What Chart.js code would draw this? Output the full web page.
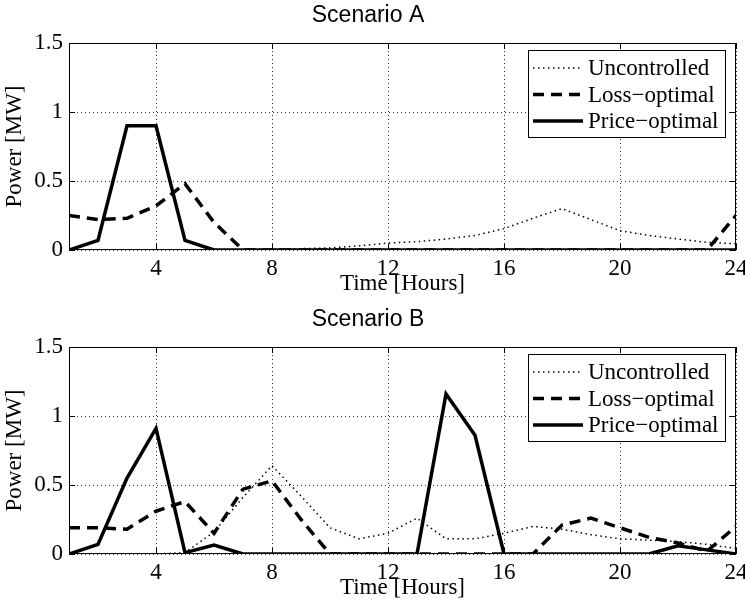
<!DOCTYPE html>
<html><head><meta charset="utf-8">
<script src="https://cdn.jsdelivr.net/npm/chart.js@4.4.0/dist/chart.umd.min.js"></script>
<style>
html,body{margin:0;padding:0;background:#fff;}
#wrap{position:relative;width:745px;height:610px;overflow:hidden;}
canvas{position:absolute;left:0;}
</style></head><body>
<div id="wrap">
<canvas id="cA" width="745" height="304" style="top:0px"></canvas>
<canvas id="cB" width="745" height="306" style="top:304px"></canvas>
</div>
<script>
const hours = [1,2,3,4,5,6,7,8,9,10,11,12,13,14,15,16,17,18,19,20,21,22,23,24];
const xTicks = [4,8,12,16,20,24];
const yTicks = [0,0.5,1,1.5];
const seriesNames = ['Uncontrolled','Loss\u2212optimal','Price\u2212optimal'];

const uncontrolledA = [0,0,0,0,0,0,0,0.005,0.01,0.015,0.03,0.05,0.06,0.08,0.105,0.155,0.23,0.3,0.22,0.14,0.105,0.08,0.055,0.045];
const lossA         = [0.25,0.22,0.23,0.32,0.48,0.2,0,0,0,0,0,0,0,0,0,0,0,0,0,0,0,0,0,0.25];
const priceA        = [0,0.07,0.9,0.9,0.07,0,0,0,0,0,0,0,0,0,0,0,0,0,0,0,0,0,0,0];

const uncontrolledB = [0,0,0,0,0.01,0.16,0.41,0.64,0.42,0.19,0.11,0.15,0.26,0.11,0.11,0.15,0.2,0.18,0.14,0.11,0.1,0.09,0.07,0.04];
const lossB         = [0.19,0.19,0.18,0.31,0.38,0.15,0.47,0.53,0.25,0,0,0,0,0,0,0,0,0.21,0.26,0.19,0.12,0.08,0.02,0.2];
const priceB        = [0,0.07,0.55,0.91,0.01,0.065,0,0,0,0,0,0,0,1.16,0.86,0,0,0,0,0,0,0.06,0.03,0];

const styles = [
  {borderWidth:1.5, borderDash:[1.5,3.5], order:3},
  {borderWidth:3.5, borderDash:[11,7], order:2},
  {borderWidth:3.5, borderDash:[], order:1}
];

function pts(vals){ return hours.map((h,i)=>({x:h,y:vals[i]})); }

const framePlugin = {
  id:'frame',
  afterDatasetsDraw(chart){
    const {ctx, chartArea:a, scales:{x,y}} = chart;
    ctx.save();
    ctx.setLineDash([]);
    ctx.strokeStyle='#000';
    ctx.lineWidth=1;
    ctx.strokeRect(Math.round(a.left)+0.5, Math.round(a.top)+0.5, Math.round(a.width)-1, Math.round(a.height)-1);
    ctx.beginPath();
    xTicks.forEach(v=>{
      const px = Math.round(x.getPixelForValue(v))+0.5;
      ctx.moveTo(px,a.bottom); ctx.lineTo(px,a.bottom-6);
      ctx.moveTo(px,a.top); ctx.lineTo(px,a.top+6);
    });
    yTicks.forEach(v=>{
      const py = Math.round(y.getPixelForValue(v))+0.5;
      ctx.moveTo(a.left,py); ctx.lineTo(a.left+6,py);
      ctx.moveTo(a.right,py); ctx.lineTo(a.right-6,py);
    });
    ctx.stroke();
    // legend box
    const bw=197, bh=87;
    const bx=Math.round(a.right)-11-bw, by=Math.round(a.top)+7;
    ctx.fillStyle='#fff';
    ctx.fillRect(bx,by,bw,bh);
    ctx.strokeRect(bx+0.5,by+0.5,bw,bh);
    chart.data.datasets.forEach((ds,i)=>{
      const yy = by+18+i*26.5;
      ctx.beginPath();
      ctx.setLineDash(ds.borderDash||[]);
      ctx.lineWidth=ds.borderWidth;
      ctx.strokeStyle='#000';
      ctx.moveTo(bx+5,yy); ctx.lineTo(bx+55,yy);
      ctx.stroke();
      ctx.setLineDash([]);
      ctx.fillStyle='#000';
      ctx.font='23px "Liberation Serif"';
      ctx.textBaseline='middle';
      ctx.textAlign='left';
      ctx.fillText(ds.label,bx+60,yy+1);
    });
    ctx.restore();
  }
};

function makeChart(id, title, H, u, l, p){
  const datasets = [u,l,p].map((vals,i)=>({
    label: seriesNames[i],
    data: pts(vals),
    borderColor:'#000',
    backgroundColor:'#000',
    borderWidth: styles[i].borderWidth,
    borderDash: styles[i].borderDash,
    borderCapStyle:'butt',
    borderJoinStyle:'miter',
    order: styles[i].order,
    pointRadius:0,
    tension:0,
    fill:false
  }));
  const serif = {family:'Liberation Serif', size:23};
  return new Chart(document.getElementById(id), {
    type:'line',
    data:{datasets},
    plugins:[framePlugin],
    options:{
      responsive:false,
      animation:false,
      events:[],
      layout:{padding:{left:0,right:9,top:0,bottom:0}},
      plugins:{
        legend:{display:false},
        tooltip:{enabled:false},
        title:{display:true, text:title, color:'#000',
          font:{family:'Liberation Sans', size:23, weight:'normal'},
          padding:{top:2.2,bottom:13.2}}
      },
      scales:{
        x:{type:'linear', min:1, max:24,
          afterBuildTicks:s=>{ s.ticks = xTicks.map(v=>({value:v})); },
          afterFit:s=>{ s.height = H-250; s.paddingLeft=0; s.paddingRight=0; },
          grid:{color:'rgba(0,0,0,0.8)', lineWidth:1, drawTicks:false},
          border:{display:false, dash:[1,3]},
          ticks:{font:serif, color:'#000', padding:5, maxRotation:0, autoSkip:false,
            callback:v=>String(v)},
          title:{display:true, text:'Time [Hours]', color:'#000', font:serif,
            padding:{top:0,bottom:H-13.8-284}}
        },
        y:{type:'linear', min:0, max:1.5,
          afterBuildTicks:s=>{ s.ticks = yTicks.map(v=>({value:v})); },
          afterFit:s=>{ s.width = 69; s.paddingTop=0; s.paddingBottom=0; },
          grid:{color:'rgba(0,0,0,0.8)', lineWidth:1, drawTicks:false},
          border:{display:false, dash:[1,3]},
          ticks:{font:serif, color:'#000', padding:6, autoSkip:false,
            callback:v=>String(v)},
          title:{display:true, text:'Power [MW]', color:'#000', font:serif,
            padding:{top:1,bottom:0}}
        }
      }
    }
  });
}

makeChart('cA','Scenario A',304,uncontrolledA,lossA,priceA);
makeChart('cB','Scenario B',306,uncontrolledB,lossB,priceB);
</script>
</body></html>
